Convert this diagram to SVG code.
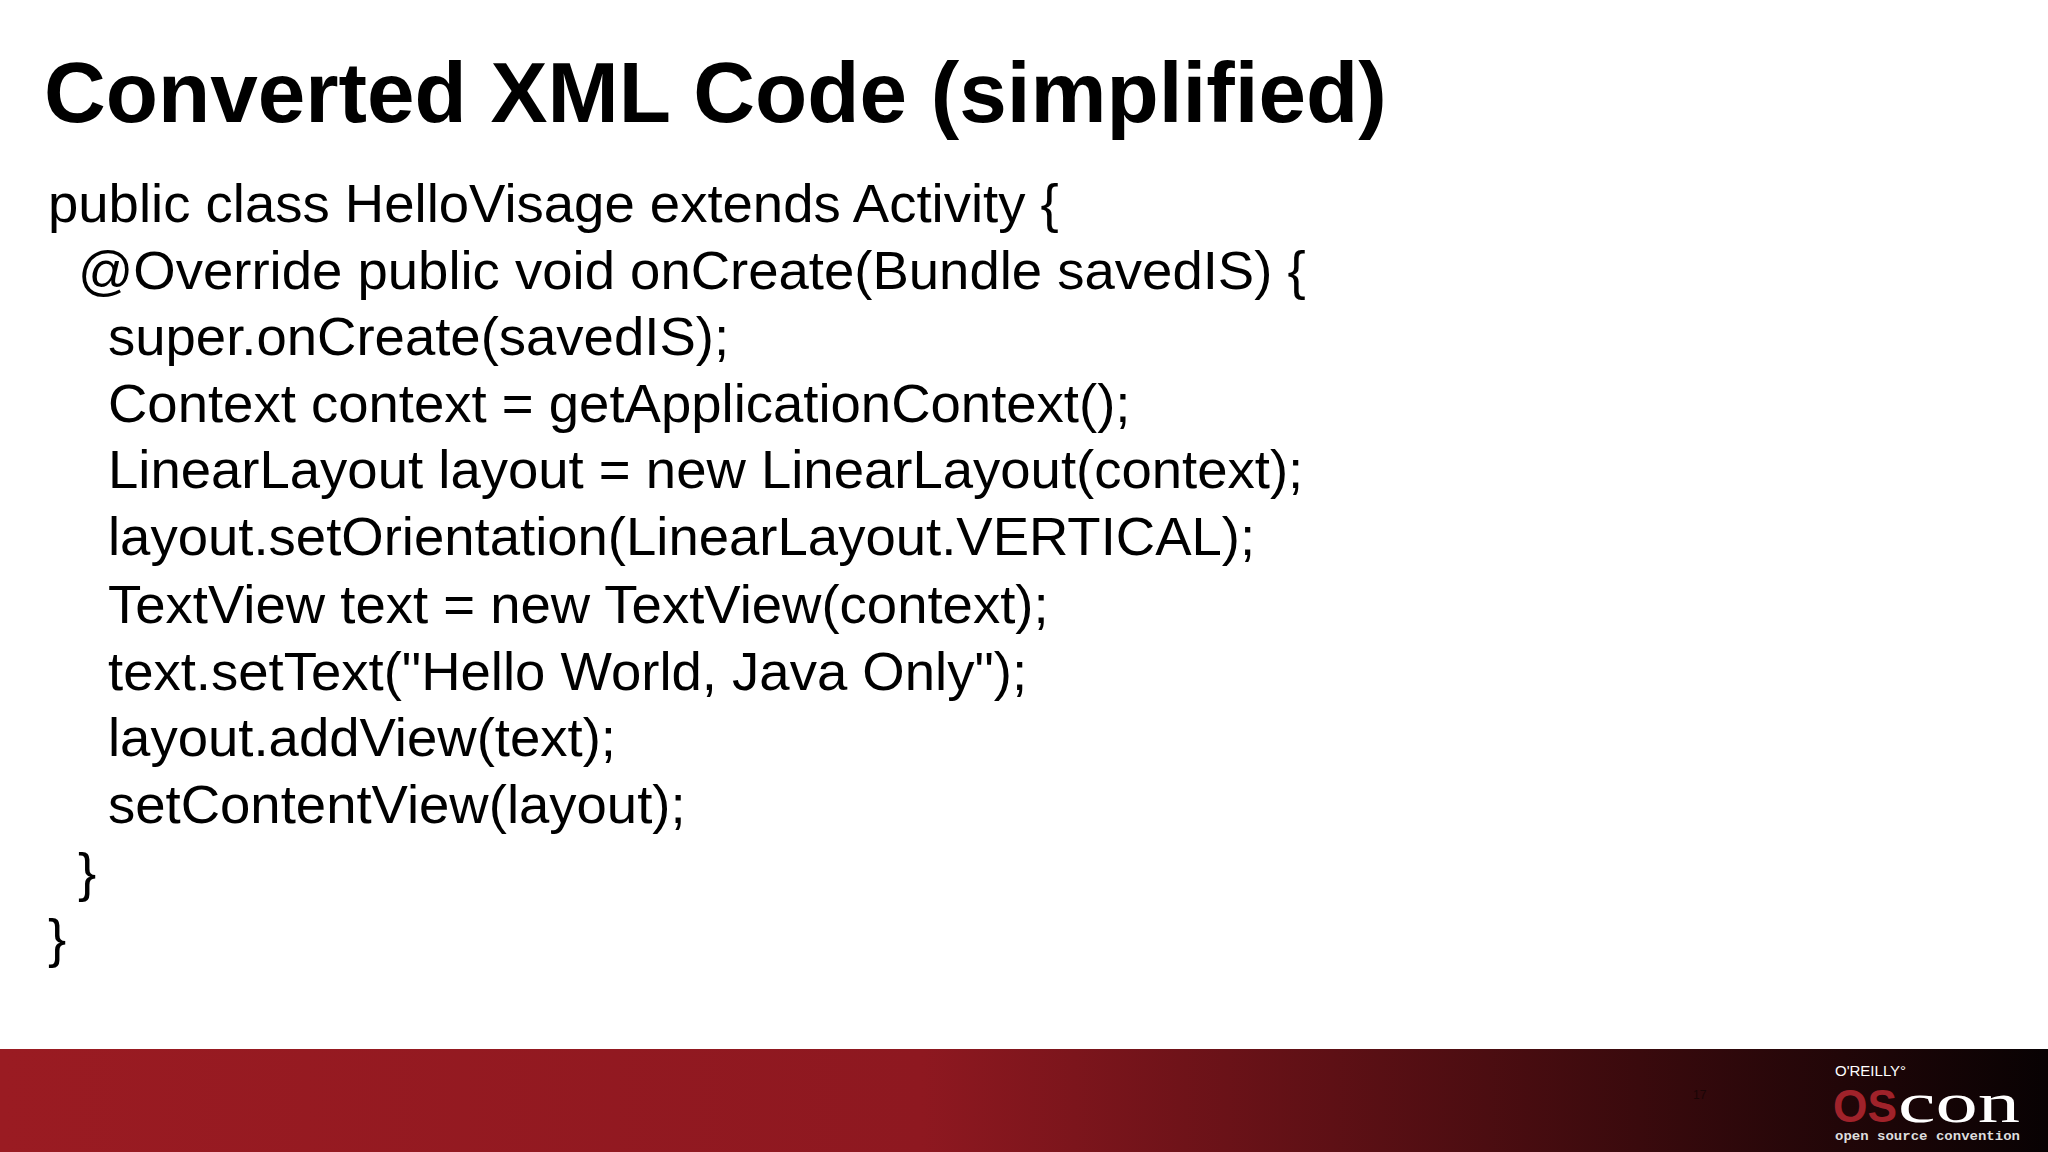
<svg xmlns="http://www.w3.org/2000/svg" width="2048" height="1152" viewBox="0 0 2048 1152">
<defs><linearGradient id="g" x1="0" x2="1" y1="0" y2="0"><stop offset="0" stop-color="#9a1b22"/><stop offset="0.45" stop-color="#8e1820"/><stop offset="0.8" stop-color="#3a0a0d"/><stop offset="1" stop-color="#080203"/></linearGradient>
<style>.c{font-family:"Liberation Sans",Arial,sans-serif;font-size:54.5px;fill:#000}</style></defs>
<rect width="2048" height="1152" fill="#fff"/>
<text x="44" y="122" font-family="Liberation Sans,Arial,sans-serif" font-weight="bold" font-size="85.5" fill="#000">Converted XML Code (simplified)</text>
<g id="code">
<text class="c" x="48" y="222">public class HelloVisage extends Activity {</text>
<text class="c" x="78" y="289">@Override public void onCreate(Bundle savedIS) {</text>
<text class="c" x="108" y="355">super.onCreate(savedIS);</text>
<text class="c" x="108" y="422">Context context = getApplicationContext();</text>
<text class="c" x="108" y="488">LinearLayout layout = new LinearLayout(context);</text>
<text class="c" x="108" y="555">layout.setOrientation(LinearLayout.VERTICAL);</text>
<text class="c" x="108" y="623">TextView text = new TextView(context);</text>
<text class="c" x="108" y="690">text.setText("Hello World, Java Only");</text>
<text class="c" x="108" y="756">layout.addView(text);</text>
<text class="c" x="108" y="823">setContentView(layout);</text>
<text class="c" x="78" y="891">}</text>
<text class="c" x="48" y="957">}</text>
</g>
<g id="footer">
<rect y="1049" width="2048" height="103" fill="url(#g)"/>
<text x="1693" y="1099" font-family="Liberation Sans,sans-serif" font-size="12" fill="#1a0506">17</text>
<text x="1835" y="1076" font-family="Liberation Sans,sans-serif" font-size="15" fill="#fff">O'REILLY°</text>
<text x="1833" y="1122" font-family="Liberation Sans,sans-serif" font-size="46" font-weight="bold" fill="#a0222a" textLength="64" lengthAdjust="spacingAndGlyphs">OS</text>
<text x="1898" y="1122" font-family="Liberation Serif,serif" font-size="58" fill="#fff" textLength="122" lengthAdjust="spacingAndGlyphs">con</text>
<text x="1835" y="1140" font-family="Liberation Mono,monospace" font-size="13" font-weight="bold" fill="#ddd" textLength="185" lengthAdjust="spacingAndGlyphs">open source convention</text>
</g>
</svg>
